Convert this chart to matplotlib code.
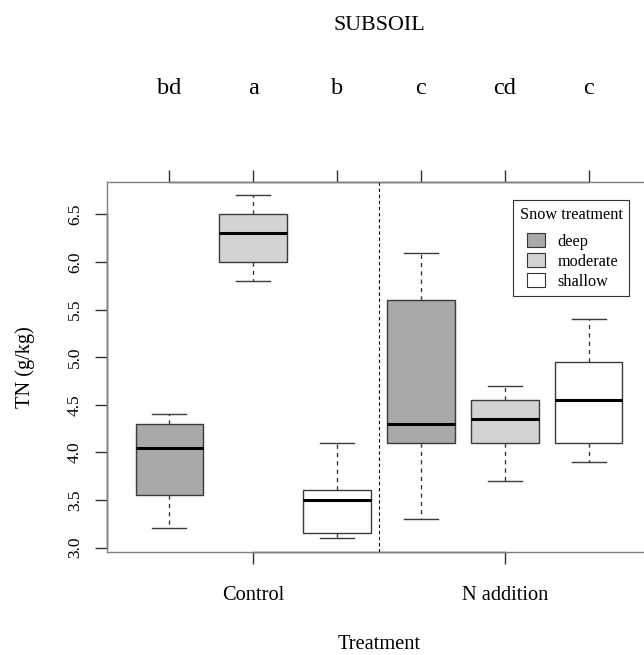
import matplotlib
matplotlib.use("Agg")
import matplotlib.pyplot as plt
import matplotlib.transforms as mtransforms
from matplotlib.patches import Patch, Rectangle
from matplotlib.legend_handler import HandlerPatch

plt.rcParams['font.family'] = ['Liberation Serif', 'DejaVu Serif']

# box statistics (TN, g/kg)
positions = [1, 2, 3, 4, 5, 6]
snow = ['deep', 'moderate', 'shallow', 'deep', 'moderate', 'shallow']
whislo = [3.2, 5.8, 3.1, 3.3, 3.7, 3.9]
q1 = [3.55, 6.0, 3.15, 4.1, 4.1, 4.1]
med = [4.05, 6.3, 3.5, 4.3, 4.35, 4.55]
q3 = [4.3, 6.5, 3.6, 5.6, 4.55, 4.95]
whishi = [4.4, 6.7, 4.1, 6.1, 4.7, 5.4]
letters = ['bd', 'a', 'b', 'c', 'cd', 'c']
treatments = ['Control', 'N addition']
treat_pos = [2, 5]
snow_levels = ['deep', 'moderate', 'shallow']
snow_colors = {'deep': '#a9a9a9', 'moderate': '#d3d3d3', 'shallow': '#ffffff'}

fig = plt.figure(figsize=(6.44, 6.55), dpi=100)
W, H = 644, 655
PX = 0.72  # points per pixel at 100 dpi
ax = fig.add_axes([107 / W, 1 - 551.7 / H, (651 - 107) / W, (551.7 - 181.7) / H])

stats = []
for i in range(len(positions)):
    stats.append({'whislo': whislo[i], 'q1': q1[i], 'med': med[i],
                  'q3': q3[i], 'whishi': whishi[i], 'fliers': []})

edge = '#3a3a3a'
bp = ax.bxp(stats, positions=positions, widths=0.8, patch_artist=True,
            showfliers=False,
            boxprops=dict(edgecolor=edge, linewidth=1.0),
            medianprops=dict(color='black', linewidth=2.2),
            whiskerprops=dict(color=edge, linewidth=1.0, linestyle=(0, (3, 3))),
            capprops=dict(color=edge, linewidth=1.0),
            capwidths=0.4)
for box, s in zip(bp['boxes'], snow):
    box.set_facecolor(snow_colors[s])

ax.set_xlim(0.26, 6.74)
ax.set_ylim(2.956, 6.844)
ax.axvline(3.5, color='black', linestyle=(0, (3, 2.5)), linewidth=0.8)

for sp in ax.spines.values():
    sp.set_color('#808080')
    sp.set_linewidth(1.0)

# axis lines from first to last tick, as R draws them
bl = mtransforms.blended_transform_factory(ax.transData, ax.transAxes)
lb = mtransforms.blended_transform_factory(ax.transAxes, ax.transData)
ax.plot([treat_pos[0], treat_pos[-1]], [0, 0], color='#333333', lw=1.0,
        transform=bl, clip_on=False)
ax.plot([positions[0], positions[-1]], [1, 1], color='#333333', lw=1.0,
        transform=bl, clip_on=False)
ax.plot([0, 0], [3.0, 6.5], color='#333333', lw=1.0, transform=lb, clip_on=False)

ax.set_xticks(treat_pos)
ax.set_xticklabels(treatments, fontsize=14.7)
ax.set_yticks([3.0, 3.5, 4.0, 4.5, 5.0, 5.5, 6.0, 6.5])
ax.set_yticklabels(['3.0', '3.5', '4.0', '4.5', '5.0', '5.5', '6.0', '6.5'],
                   rotation=90, va='center', fontsize=12.5)
ax.tick_params(axis='both', direction='out', length=12 * PX, width=1.0, color='#333333')
ax.tick_params(axis='x', pad=22 * PX)
ax.tick_params(axis='y', pad=12 * PX)

top = ax.secondary_xaxis('top')
top.set_xticks(positions)
top.set_xticklabels([])
top.tick_params(direction='out', length=12 * PX, width=1.0, color='#333333')
top.spines['top'].set_visible(False)

ax.set_xlabel('Treatment', fontsize=14.7, labelpad=30 * PX)
ax.set_ylabel('TN (g/kg)', fontsize=14.7, labelpad=32 * PX)

tr = mtransforms.blended_transform_factory(ax.transData, fig.transFigure)
for p, l in zip(positions, letters):
    ax.text(p, 1 - 89 / H, l, transform=tr, ha='center', va='center', fontsize=17.5)
fig.text(379 / W, 1 - 25 / H, 'SUBSOIL', ha='center', va='center', fontsize=15.8)


def small_square(legend, orig_handle, xdescent, ydescent, width, height, fontsize):
    side = 13
    return Rectangle((width - side - xdescent, -ydescent + (height - 10) / 2),
                     side, 10)


handles = [Patch(facecolor=snow_colors[s], edgecolor='#333333', linewidth=0.8)
           for s in snow_levels]
leg = ax.legend(handles, snow_levels, title='Snow treatment', loc='upper left',
                bbox_to_anchor=(513 / W, 1 - 200 / H), bbox_transform=fig.transFigure,
                borderaxespad=0, fontsize=11.7, title_fontsize=11.7, fancybox=False,
                framealpha=1, edgecolor='#333333', handlelength=1.55, handleheight=0.8,
                handletextpad=0.8, labelspacing=0.25, borderpad=0.4,
                handler_map={Patch: HandlerPatch(patch_func=small_square)})
leg.get_frame().set_linewidth(0.8)
leg._legend_box.align = 'left'
leg._legend_box.sep = 8

fig.savefig('out.png', dpi=100)
